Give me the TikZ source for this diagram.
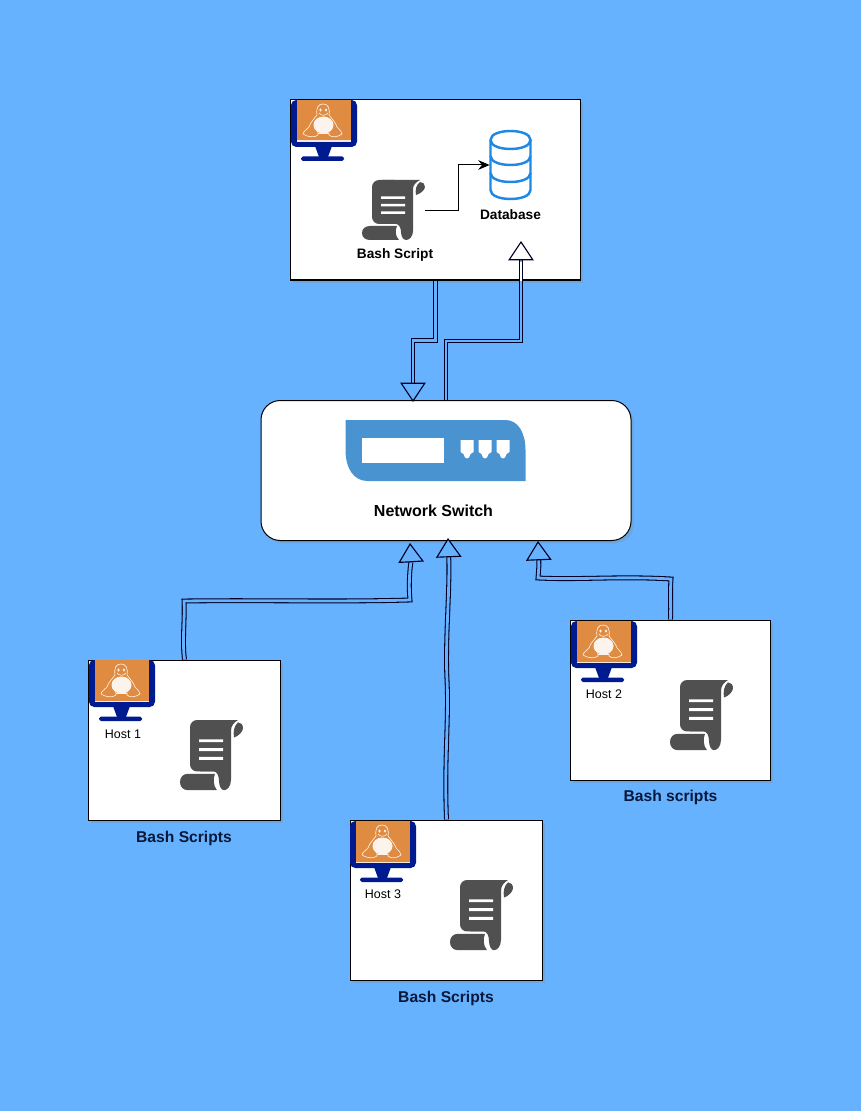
\documentclass[tikz,border=0pt]{standalone}
\usepackage{fontspec}
\setmainfont{Liberation Sans}
\usetikzlibrary{arrows.meta}
\usetikzlibrary{shadows}
\definecolor{skyblue}{HTML}{66B2FF}
\definecolor{pcnavy}{HTML}{001A8F}
\definecolor{pcorange}{HTML}{DF8C42}
\definecolor{scrollgray}{HTML}{505050}
\definecolor{switchblue}{HTML}{4A93D1}
\definecolor{dbblue}{HTML}{1E88E5}
\definecolor{labelnavy}{HTML}{08183A}
\def\pxu{0.02cm}
\tikzset{
  hostpc/.pic={
    \fill[pcnavy,rounded corners=3] (0,0) rectangle (66,47);
    \fill[pcnavy] (24,46) -- (41,46) -- (37,57) -- (28,57) -- cycle;
    \fill[pcnavy,rounded corners=1] (10,56.5) rectangle (53,61);
    \fill[white!80!pcorange] (6,0) rectangle (60,42);
    \fill[pcorange] (6,0) rectangle (60,40.5);
    \begin{scope}[white!90!pcorange,line width=.35pt]
      \draw (32,4) .. controls (27,4) and (25,8) .. (26,15)
         .. controls (23,19) and (19,23) .. (18,27);
      \draw (32,4) .. controls (37,4) and (39,8) .. (38,15)
         .. controls (41,19) and (45,23) .. (46,27);
      \draw (18,27) .. controls (15,30) and (12,32) .. (12,34)
         .. controls (16,37) and (24,38) .. (27,35)
         .. controls (28,32) and (26,29) .. (24,28);
      \draw (46,27) .. controls (49,30) and (51,32) .. (51,34)
         .. controls (47,37) and (41,38) .. (38,35)
         .. controls (37,32) and (38,29) .. (40,28);
      \draw (27,33) -- (38,33);
      \fill (32.5,25) ellipse [x radius=10,y radius=8.5];
      \fill (29.5,10) ellipse [x radius=1.2,y radius=1.6] (35,10) ellipse [x radius=1.2,y radius=1.6];
      \draw (28,13) .. controls (30,16) and (35,16) .. (37,13);
    \end{scope}
  },
  scrollicon/.pic={
    \fill[scrollgray,rounded corners=4] (10,44) -- (10,0) -- (40,0) -- (40,44) -- cycle;
    \fill[scrollgray] (20,0) -- (58,0) .. controls (54,2) and (51,5) .. (51,9) -- (51,51)
       .. controls (51,57) and (47,60) .. (44,60)
       .. controls (41,60) and (39,56) .. (39,52)
       .. controls (39,48) and (37,44) .. (34,44) -- (20,44) -- cycle;
    \fill[scrollgray] (8,46) -- (35,46) .. controls (33,50) and (33,56) .. (37,60) -- (8,60)
       .. controls (3,60) and (0,57) .. (0,53) .. controls (0,49) and (3,46) .. (8,46) -- cycle;
    \fill[scrollgray] (58,2) .. controls (61,2) and (63,4) .. (63,7)
       .. controls (63,10) and (58,14) .. (54,15)
       .. controls (53,10) and (54,5) .. (58,2) -- cycle;
    \fill[white] (19,16.5) rectangle (43,19) (19,24) rectangle (43,26.5) (19,31.5) rectangle (43,34);
  },
  dbicon/.pic={
    \begin{scope}[dbblue,line width=1.4pt]
      \draw (-20,-25) -- (-20,25) .. controls (-20,37) and (20,37) .. (20,25) -- (20,-25);
      \draw (-20,-25) .. controls (-20,-37) and (20,-37) .. (20,-25)
         .. controls (20,-13) and (-20,-13) .. (-20,-25);
      \draw (-20,-9) .. controls (-20,3) and (20,3) .. (20,-9);
      \draw (-20,8) .. controls (-20,20) and (20,20) .. (20,8);
    \end{scope}
  },
  switchicon/.pic={
    \fill[switchblue] (0,0) -- (160,0) .. controls (172,0) and (180,12) .. (180,30) -- (180,61)
       -- (22,61) .. controls (8,61) and (0,48) .. (0,30) -- cycle;
    \fill[white] (16,18) rectangle (98,43);
    \foreach \portx in {115,133,151} {
      \fill[white] (\portx,20) -- (\portx+13,20) -- (\portx+13,32) -- (\portx+10,34)
         .. controls (\portx+9,40) and (\portx+4,40) .. (\portx+3,34) -- (\portx,32) -- cycle;
    }
  }
}
\begin{document}
\begin{tikzpicture}[x=\pxu,y=-\pxu,
    panel/.style={draw=black,fill=white,line width=.57pt,inner sep=0pt,
      drop shadow={shadow xshift=1.6pt,shadow yshift=-1.6pt,opacity=.25}},
    iconspot/.style={inner sep=0pt},
    boldlabel/.style={font=\bfseries\fontsize{7.8}{9}\selectfont,inner sep=0pt},
    hostlabel/.style={font=\fontsize{7.1}{8}\selectfont,inner sep=0pt},
    scriptslabel/.style={font=\bfseries\fontsize{8.9}{10}\selectfont,text=labelnavy,inner sep=0pt},
    link/.style={line width=.6pt,double=skyblue,double distance=1.6pt,draw=black!85!blue,
      -{Triangle[length=11pt,width=14.5pt,fill=#1,line width=.65pt]}},
    link/.default=skyblue]

   \useasboundingbox (0,0) rectangle (861,1111);
   \fill[skyblue] (0,0) rectangle (861,1111);

   % boxes
   \node[panel,minimum width=290*\pxu,minimum height=180*\pxu] (server) at (435.5,190) {};
   \node[panel,rounded corners=11pt,minimum width=370*\pxu,minimum height=140*\pxu] (switch) at (446,470.5) {};
   \node[panel,minimum width=192*\pxu,minimum height=160*\pxu] (hostone) at (184.5,740) {};
   \node[panel,minimum width=200*\pxu,minimum height=160*\pxu] (hosttwo) at (670.5,700) {};
   \node[panel,minimum width=192*\pxu,minimum height=160*\pxu] (hostthree) at (446.5,900) {};

   % server
   \pic at (291,100) {hostpc};
   \node[iconspot,minimum width=63*\pxu,minimum height=60*\pxu] (script) at (393.5,211) {};
   \pic at (362,180) {scrollicon};
   \node[iconspot,minimum width=41*\pxu,minimum height=68*\pxu] (db) at (510.5,165) {};
   \pic at (510.5,165) {dbicon};
   \node[boldlabel] (scriptname) at (395,255) {Bash Script};
   \node[boldlabel] (dbname) at (510.5,215) {Database};
   \draw[line width=.57pt,-{Stealth[length=6.5pt,width=5.5pt]}] (script.east) -- ++(33,0) |- (db.west);

   % switch
   \pic at (345.5,420) {switchicon};
   \node[font=\bfseries\fontsize{9.1}{11}\selectfont,inner sep=0pt] (switchname) at (433.5,510.5) {Network Switch};

   % hosts
   \pic at (89,660) {hostpc};
   \node[hostlabel] (hostonename) at (123,734) {Host 1};
   \pic[yscale=1.17] at (180,720) {scrollicon};
   \node[scriptslabel] (hostonescripts) at (184,838) {Bash Scripts};

   \pic at (571,621) {hostpc};
   \node[hostlabel] (hosttwoname) at (604,694) {Host 2};
   \pic[yscale=1.17] at (670,680) {scrollicon};
   \node[scriptslabel] (hosttwoscripts) at (670.5,797) {Bash scripts};

   \pic at (350,821) {hostpc};
   \node[hostlabel] (hostthreename) at (383,894) {Host 3};
   \pic[yscale=1.17] at (450,880) {scrollicon};
   \node[scriptslabel] (hostthreescripts) at (446,998) {Bash Scripts};

   % connectors
   \coordinate (swin) at (413,402);
   \coordinate (dbport) at (521,241);
   \coordinate (dbneck) at (521,262);
   \coordinate (swa) at (410,543);
   \coordinate (swb) at (448,538);
   \coordinate (swc) at (538,541);

   \draw[link] (server.south) -- ++(0,60) -| (swin);
   \draw[link=white] (switch.north) -- ++(0,-59) -| (dbport);
   \draw[white,line width=1.6pt] (dbneck) -- (server.south -| dbneck);
   \draw[link] (hostone.north) .. controls (182,640) and (185,620) .. (184,601)
      .. controls (260,600) and (340,602) .. (410,600) .. controls (408,580) and (411,560) .. (swa);
   \draw[link] (hostthree.north) .. controls (444,760) and (449,720) .. (447,680)
      .. controls (445,640) and (450,590) .. (swb);
   \draw[link] (hosttwo.north) .. controls (671,605) and (670,590) .. (671,579)
      .. controls (620,576) and (580,580) .. (538,578) .. controls (539,565) .. (swc);
\end{tikzpicture}
\end{document}
